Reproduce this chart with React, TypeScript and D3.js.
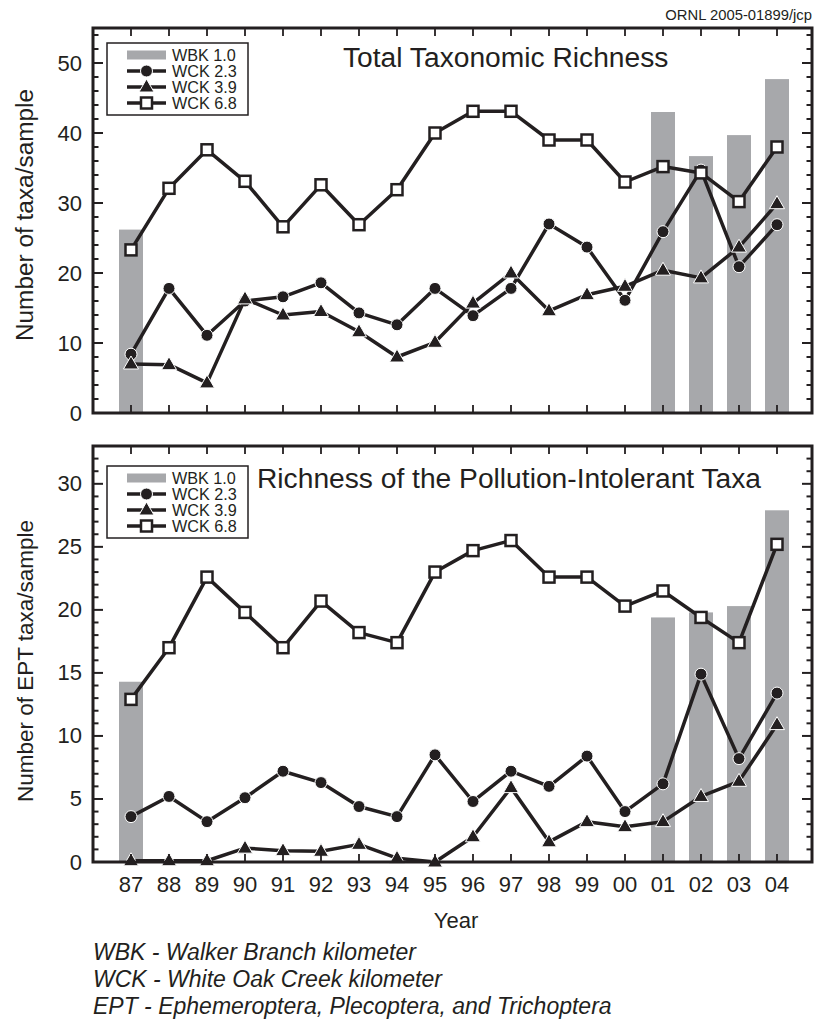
import React from "react";
import * as d3 from "d3";

const years = ["87","88","89","90","91","92","93","94","95","96","97","98","99","00","01","02","03","04"];

// Top panel: Total Taxonomic Richness
const topWBK: (number | null)[] = [26.2,null,null,null,null,null,null,null,null,null,null,null,null,null,43.0,36.7,39.7,47.7];
const topWCK23 = [8.4,17.8,11.1,16.0,16.6,18.6,14.3,12.6,17.8,13.9,17.8,27.0,23.7,16.1,25.9,34.7,20.9,26.9];
const topWCK39 = [7.0,6.9,4.3,16.3,14.0,14.5,11.6,8.0,10.1,15.7,20.0,14.6,16.9,18.1,20.4,19.3,23.7,29.9];
const topWCK68 = [23.3,32.1,37.6,33.1,26.6,32.6,26.9,31.9,40.0,43.1,43.1,39.0,39.0,33.0,35.2,34.3,30.2,38.0];

// Bottom panel: EPT richness
const botWBK: (number | null)[] = [14.3,null,null,null,null,null,null,null,null,null,null,null,null,null,19.4,19.8,20.3,27.9];
const botWCK23 = [3.6,5.2,3.2,5.1,7.2,6.3,4.4,3.6,8.5,4.8,7.2,6.0,8.4,4.0,6.2,14.9,8.2,13.4];
const botWCK39 = [0.1,0.1,0.1,1.1,0.9,0.85,1.4,0.3,0.0,2.0,5.9,1.6,3.2,2.8,3.2,5.2,6.4,10.9];
const botWCK68 = [12.9,17.0,22.6,19.8,17.0,20.7,18.2,17.4,23.0,24.7,25.5,22.6,22.6,20.3,21.5,19.4,17.4,25.2];

const legendLabels = ["WBK 1.0", "WCK 2.3", "WCK 3.9", "WCK 6.8"];
const topTicks = [0, 10, 20, 30, 40, 50];
const botTicks = [0, 5, 10, 15, 20, 25, 30];
const footnotes = [
  "WBK - Walker Branch kilometer",
  "WCK - White Oak Creek kilometer",
  "EPT - Ephemeroptera, Plecoptera, and Trichoptera",
];

const INK = "#231f20";
const BAR = "#a7a8ab";
const FONT = "Liberation Sans, Arial, Helvetica, sans-serif";

const X0 = 93;
const X1 = 812;
const x = d3.scaleLinear().domain([-1, 18]).range([93, 815]);

type Marker = "circle" | "triangle" | "square";

function MarkerShape({ cx, cy, kind }: { cx: number; cy: number; kind: Marker }) {
  if (kind === "circle") {
    return <circle cx={cx} cy={cy} r={6} fill={INK} stroke="#fff" strokeWidth={1} />;
  }
  if (kind === "triangle") {
    const p = d3.path();
    p.moveTo(cx, cy - 8);
    p.lineTo(cx + 7.5, cy + 5);
    p.lineTo(cx - 7.5, cy + 5);
    p.closePath();
    return <path d={p.toString()} fill={INK} stroke="#fff" strokeWidth={1} />;
  }
  return <rect x={cx - 5.5} y={cy - 5.5} width={11} height={11} fill="#fff" stroke={INK} strokeWidth={2.5} />;
}

function Series({ values, y, kind }: { values: number[]; y: d3.ScaleLinear<number, number>; kind: Marker }) {
  const line = d3.line<number>().x((_, i) => x(i)).y((v) => y(v));
  return (
    <g>
      <path d={line(values) || ""} fill="none" stroke={INK} strokeWidth={3.5} strokeLinejoin="round" />
      {values.map((v, i) => (
        <MarkerShape key={i} cx={x(i)} cy={y(v)} kind={kind} />
      ))}
    </g>
  );
}

function Panel({
  y, wbk, s23, s39, s68, ticks, minorStep, maxV, title, titleX, titleY, legendY, yLabel, yLabelSize, yLabelCenter, showX,
}: {
  y: d3.ScaleLinear<number, number>; wbk: (number | null)[]; s23: number[]; s39: number[]; s68: number[];
  ticks: number[]; minorStep: number; maxV: number; title: string; titleX: number; titleY: number;
  legendY: number; yLabel: string; yLabelSize: number; yLabelCenter: number; showX: boolean;
}) {
  const [yb, yt] = y.range();
  const minor = d3.range(0, maxV + 0.001, minorStep);
  const majorStep = ticks[1] - ticks[0];
  const bw = 24;
  const rowH = 16;
  return (
    <g>
      {wbk.map((v, i) =>
        v == null ? null : (
          <rect key={i} x={x(i) - bw / 2} y={y(v)} width={bw} height={yb - y(v)} fill={BAR} />
        )
      )}
      <Series values={s23} y={y} kind="circle" />
      <Series values={s39} y={y} kind="triangle" />
      <Series values={s68} y={y} kind="square" />
      {/* frame */}
      <rect x={X0} y={yt} width={X1 - X0} height={yb - yt} fill="none" stroke={INK} strokeWidth={3} />
      {/* y ticks */}
      {minor.map((v) => {
        const isMajor = Math.abs(v / majorStep - Math.round(v / majorStep)) < 1e-6;
        const len = isMajor ? 10 : 5.5;
        return (
          <g key={v}>
            <line x1={X0} x2={X0 + len} y1={y(v)} y2={y(v)} stroke={INK} strokeWidth={2} />
            <line x1={X1} x2={X1 - len} y1={y(v)} y2={y(v)} stroke={INK} strokeWidth={2} />
          </g>
        );
      })}
      {ticks.map((t) => (
        <text key={t} x={82} y={y(t) + 7.5} textAnchor="end" fontSize={22} fill={INK} fontFamily={FONT}>
          {t}
        </text>
      ))}
      {/* x ticks */}
      {years.map((_, i) => (
        <g key={i}>
          <line x1={x(i)} x2={x(i)} y1={yt} y2={yt + 8} stroke={INK} strokeWidth={1.8} />
          <line x1={x(i)} x2={x(i)} y1={yb} y2={yb - 8} stroke={INK} strokeWidth={1.8} />
        </g>
      ))}
      {showX &&
        years.map((lab, i) => (
          <text key={i} x={x(i)} y={yb + 30} textAnchor="middle" fontSize={22} fill={INK} fontFamily={FONT}>
            {lab}
          </text>
        ))}
      <text
        transform={`translate(33,${yLabelCenter}) rotate(-90)`}
        textAnchor="middle"
        fontSize={yLabelSize}
        fill={INK}
        fontFamily={FONT}
      >
        {yLabel}
      </text>
      <text x={titleX} y={titleY} fontSize={28.2} fill={INK} fontFamily={FONT}>
        {title}
      </text>
      {/* legend */}
      <rect x={107} y={legendY} width={141} height={72} fill="#fff" stroke={INK} strokeWidth={1.5} />
      {legendLabels.map((lab, k) => {
        const cy = legendY + 12 + k * rowH;
        return (
          <g key={lab}>
            {k === 0 ? (
              <rect x={127} y={cy - 4.5} width={39} height={9} fill={BAR} />
            ) : (
              <g>
                <line x1={127} x2={166} y1={cy} y2={cy} stroke={INK} strokeWidth={3.5} />
                <MarkerShape cx={146.5} cy={cy} kind={(["circle", "triangle", "square"] as Marker[])[k - 1]} />
              </g>
            )}
            <text x={172} y={cy + 6} fontSize={16.2} fill={INK} fontFamily={FONT}>
              {lab}
            </text>
          </g>
        );
      })}
    </g>
  );
}

export default function App() {
  const yTop = d3.scaleLinear().domain([0, 55]).range([413, 28]);
  const yBot = d3.scaleLinear().domain([0, 33]).range([862, 446]);
  return (
    <svg width={814} height={1019} style={{ position: "absolute", left: 0, top: 0, background: "#fff" }}>
      <rect width={814} height={1019} fill="#fff" />
      <text x={812} y={20} textAnchor="end" fontSize={14.8} fill={INK} fontFamily={FONT}>
        ORNL 2005-01899/jcp
      </text>
      <Panel
        y={yTop} wbk={topWBK} s23={topWCK23} s39={topWCK39} s68={topWCK68}
        ticks={topTicks} minorStep={2} maxV={55} title="Total Taxonomic Richness"
        titleX={343} titleY={67} legendY={43} yLabel="Number of taxa/sample"
        yLabelSize={24.4} yLabelCenter={215} showX={false}
      />
      <Panel
        y={yBot} wbk={botWBK} s23={botWCK23} s39={botWCK39} s68={botWCK68}
        ticks={botTicks} minorStep={1} maxV={33} title="Richness of the Pollution-Intolerant Taxa"
        titleX={257} titleY={488} legendY={466} yLabel="Number of EPT taxa/sample"
        yLabelSize={22.5} yLabelCenter={661} showX={true}
      />
      <text x={456} y={928} textAnchor="middle" fontSize={22} fill={INK} fontFamily={FONT}>
        Year
      </text>
      {footnotes.map((f, i) => (
        <text key={i} x={93} y={960 + i * 27} fontSize={23} fontStyle="italic" fill={INK} fontFamily={FONT}>
          {f}
        </text>
      ))}
    </svg>
  );
}
